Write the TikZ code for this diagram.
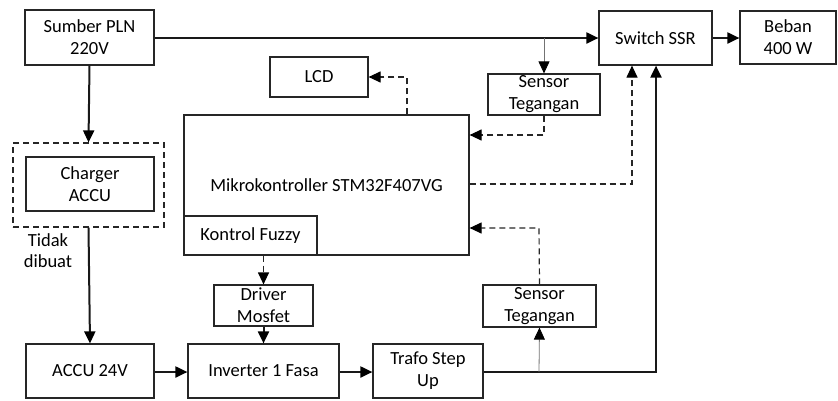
\documentclass[tikz,border=0pt]{standalone}
\usepackage{fontspec}
\setmainfont{Carlito}
\usetikzlibrary{arrows.meta,calc}
\begin{document}
\begin{tikzpicture}[x=1pt,y=-1pt,
  txt/.style={font=\fontsize{18.5}{22}\selectfont,align=center,inner sep=0pt},
  blok/.style={txt,draw=black!85,line width=1.2pt},
  tip/.style={-{Triangle[length=12pt,width=11pt,color=black]}},
  power/.style={tip,line width=2pt,black!90},
  probe/.style={tip,line width=0.8pt,black!55},
  signal/.style={tip,line width=1.2pt,black!85,dash pattern=on 6pt off 4pt}]
\useasboundingbox (0,0) rectangle (838,400);

% blocks
\node[blok,minimum width=129pt,minimum height=55pt] (pln) at (89.5,37.5) {Sumber PLN\\220V};
\node[blok,minimum width=113pt,minimum height=54pt] (ssr) at (655.5,38) {Switch SSR};
\node[blok,minimum width=96pt,minimum height=53pt] (beban) at (788,37.5) {Beban\\400 W};
\node[blok,minimum width=112pt,minimum height=41pt] (sensA) at (544,94.5) {Sensor\\Tegangan};
\node[blok,minimum width=98pt,minimum height=40pt] (lcd) at (319,77) {LCD};
\node[blok,minimum width=285pt,minimum height=140pt] (mcu) at (326.5,185) {Mikrokontroller STM32F407VG};
\node[blok,minimum width=133pt,minimum height=39pt] (fuzzy) at (250.5,235.5) {Kontrol Fuzzy};
\node[blok,minimum width=99pt,minimum height=41pt] (driver) at (263.5,305.5) {Driver\\Mosfet};
\node[blok,minimum width=151pt,minimum height=54pt] (inv) at (263.5,371) {Inverter 1 Fasa};
\node[blok,minimum width=128pt,minimum height=54pt] (accu) at (90,371) {ACCU 24V};
\node[blok,minimum width=110pt,minimum height=54pt] (trafo) at (428,371) {Trafo Step\\Up};
\node[blok,minimum width=113pt,minimum height=42pt] (sensB) at (539.5,306) {Sensor\\Tegangan};

% charger block, not built
\node[draw=black!85,line width=1.2pt,dash pattern=on 6pt off 4pt,minimum width=151pt,minimum height=84pt,inner sep=0pt] (frame) at (88.5,185) {};
\node[blok,minimum width=128pt,minimum height=54pt] (charger) at (90,184) {Charger\\ACCU};
\node[txt,font=\fontsize{18.5}{21}\selectfont] (note) at (48,251) {Tidak\\dibuat};

% turning points
\coordinate (tapA) at (544,38);
\coordinate (tapB) at (539,372);
\coordinate (ssrPow) at (656,372);
\coordinate (ssrSig) at (632,184);
\coordinate (lcdTurn) at (407,77);
\coordinate (sensATurn) at (544,135);
\coordinate (sensBTurn) at (539,228);

% power path
\draw[power] (pln.east |- tapA) -- (ssr.west |- tapA);
\draw[power] (ssr.east |- tapA) -- (beban.west |- tapA);
\draw[power] (pln.south) -- (frame.north);
\draw[power] (frame.south) -- (accu.north);
\draw[power] (accu.east |- tapB) -- (inv.west |- tapB);
\draw[power] (inv.east |- tapB) -- (trafo.west |- tapB);
\draw[power] (trafo.east |- tapB) -- (ssrPow) -- (ssr.south -| ssrPow);
\draw[power] (driver.south) -- (inv.north);

% voltage sensing
\draw[probe] (tapA) -- (sensA.north);
\draw[probe] (tapB) -- (sensB.south);

% control signals
\draw[signal] (sensA.south) -- (sensATurn) -- (mcu.east |- sensATurn);
\draw[signal] (sensB.north) -- (sensBTurn) -- (mcu.east |- sensBTurn);
\draw[signal] (mcu.east |- ssrSig) -- (ssrSig) -- (ssr.south -| ssrSig);
\draw[signal] (mcu.north -| lcdTurn) -- (lcdTurn) -- (lcd.east);
\draw[signal] (fuzzy.south -| driver.north) -- (driver.north);
\end{tikzpicture}
\end{document}
